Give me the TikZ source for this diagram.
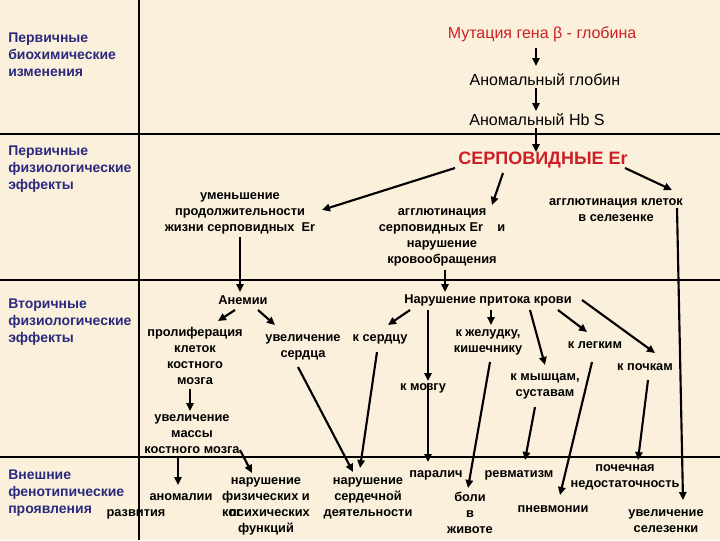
\documentclass[tikz,border=0pt]{standalone}
\usepackage{fontspec}
\setmainfont{Liberation Sans}
\usetikzlibrary{arrows.meta,calc}
\definecolor{bgc}{HTML}{FBF0DB}
\definecolor{navy}{HTML}{2A2A7E}
\definecolor{redt}{HTML}{CC2026}
\begin{document}
\begin{tikzpicture}[x=0.75pt,y=-0.75pt,
  lab/.style={anchor=west, align=left, text=navy, inner sep=0pt, font=\bfseries\fontsize{10.5}{12.75}\selectfont},
  txt/.style={align=center, inner sep=0pt, font=\bfseries\fontsize{9.6}{12}\selectfont},
  toptxt/.style={inner sep=0pt, font=\fontsize{12}{14}\selectfont},
  arr/.style={line width=1.6pt, -{Triangle[length=6pt,width=5.5pt]}},
  divline/.style={line width=1.8pt}]
\fill[bgc] (0,0) rectangle (720,540);
\useasboundingbox (0,0) rectangle (720,540);
% dividers
\draw[divline] (139,0) -- (139,540);
\draw[divline] (0,134) -- (720,134);
\draw[divline] (0,280) -- (720,280);
\draw[divline] (0,457) -- (720,457);
% left labels
\node[lab] (l1) at (8,55) {Первичные\\биохимические\\изменения};
\node[lab] (l2) at (8,169) {Первичные\\физиологические\\эффекты};
\node[lab] (l3) at (8,322) {Вторичные\\физиологические\\эффекты};
\node[lab] (l4) at (8,493) {Внешние\\фенотипические\\проявления};
% top chain
\node[toptxt, text=redt] (mut) at (542,34) {Мутация гена β - глобина};
\node[toptxt] (glob) at (545,80) {Аномальный глобин};
\node[toptxt] (hbs) at (537,120) {Аномальный Hb S};
\node[inner sep=0pt, text=redt, font=\bfseries\fontsize{13.5}{16}\selectfont] (serp) at (543,160) {СЕРПОВИДНЫЕ Er};
% middle texts
\node[txt] (umen) at (240,213) {уменьшение\\продолжительности\\жизни серповидных~~Er};
\node[txt] (aggl) at (442,237) {агглютинация\\серповидных Er~~~~и\\нарушение\\кровообращения};
\node[txt] (agsel) at (616,210) {агглютинация клеток\\в селезенке};
\node[txt] (anem) at (243,300) {Анемии};
\node[txt] (nar) at (488,300) {Нарушение притока крови};
\node[txt] (prol) at (195,356) {пролиферация\\клеток\\костного\\мозга};
\node[txt] (uvs) at (303,347) {увеличение\\сердца};
\node[txt] (kserd) at (380,339) {к сердцу};
\node[txt] (kzhel) at (488,342) {к желудку,\\кишечнику};
\node[txt] (kmozg) at (423,388) {к мозгу};
\node[txt] (kmysh) at (545,386) {к мышцам,\\суставам};
\node[txt] (kleg) at (595,345) {к легким};
\node[txt] (kpoch) at (645,367) {к почкам};
\node[txt] (uvm) at (192,434) {увеличение\\массы\\костного мозга};
\node[txt] (anom) at (181,497) {аномалии};
\node[txt] (razv) at (136,514) {развития};
\node[txt] (nfiz) at (266,506) {нарушение\\физических и\\\rlap{ког}\kern0.55em психических\\функций};
\node[txt] (nserd) at (368,498) {нарушение\\сердечной\\деятельности};
\node[txt] (paral) at (436,475) {паралич};
\node[txt] (boli) at (470,513) {боли\\в\\животе};
\node[txt] (revm) at (519,475) {ревматизм};
\node[txt] (pnev) at (553,509) {пневмонии};
\node[txt] (pochn) at (625,477) {почечная\\недостаточность};
\node[txt] (uvsel) at (666,521) {увеличение\\селезенки};
% connectors
\draw[arr] ($(mut)+(-6,14)$) -- ($(glob)+(-9,-14)$);
\draw[arr] ($(glob)+(-9,8)$) -- ($(hbs)+(-1,-9)$);
\draw[arr] ($(hbs)+(-1,8)$) -- ($(serp)+(-7,-8)$);
\draw[arr] ($(serp)+(-88,8)$) -- ($(umen)+(82,-3)$);
\draw[arr] ($(serp)+(-40,13)$) -- ($(aggl)+(50,-32)$);
\draw[arr] ($(serp)+(82,8)$) -- ($(agsel)+(56,-20)$);
\draw[arr] ($(agsel)+(61,-2)$) -- ($(uvsel)+(17,-21)$);
\draw[arr] ($(umen)+(0,24)$) -- ($(anem)+(-3,-8)$);
\draw[arr] ($(aggl)+(3,33)$) -- ($(nar)+(-43,-8)$);
\draw[arr] ($(anem)+(-8,10)$) -- ($(prol)+(23,-35)$);
\draw[arr] ($(anem)+(15,10)$) -- ($(uvs)+(-28,-22)$);
\draw[arr] ($(nar)+(-78,10)$) -- ($(kserd)+(8,-14)$);
\draw[arr] ($(nar)+(-60,10)$) -- ($(kmozg)+(5,-7)$);
\draw[arr] ($(kmozg)+(5,-5)$) -- ($(paral)+(-8,-13)$);
\draw[arr] ($(nar)+(3,10)$) -- ($(kzhel)+(3,-17)$);
\draw[arr] ($(nar)+(42,10)$) -- ($(kmysh)+(0,-21)$);
\draw[arr] ($(nar)+(70,10)$) -- ($(kleg)+(-8,-13)$);
\draw[arr] ($(nar)+(94,0)$) -- ($(kpoch)+(10,-14)$);
\draw[arr] ($(prol)+(-5,33)$) -- ($(uvm)+(-2,-23)$);
\draw[arr] ($(uvm)+(-14,23)$) -- ($(anom)+(-3,-12)$);
\draw[arr] ($(uvm)+(48,16)$) -- ($(nfiz)+(-14,-33)$);
\draw[arr] ($(uvs)+(-5,20)$) -- ($(nserd)+(-15,-26)$);
\draw[arr] ($(kserd)+(-3,13)$) -- ($(nserd)+(-8,-30)$);
\draw[arr] ($(kzhel)+(2,20)$) -- ($(boli)+(-2,-25)$);
\draw[arr] ($(kmysh)+(-10,21)$) -- ($(revm)+(6,-15)$);
\draw[arr] ($(kleg)+(-3,17)$) -- ($(pnev)+(7,-14)$);
\draw[arr] ($(kpoch)+(3,13)$) -- ($(pochn)+(13,-17)$);
\end{tikzpicture}
\end{document}
